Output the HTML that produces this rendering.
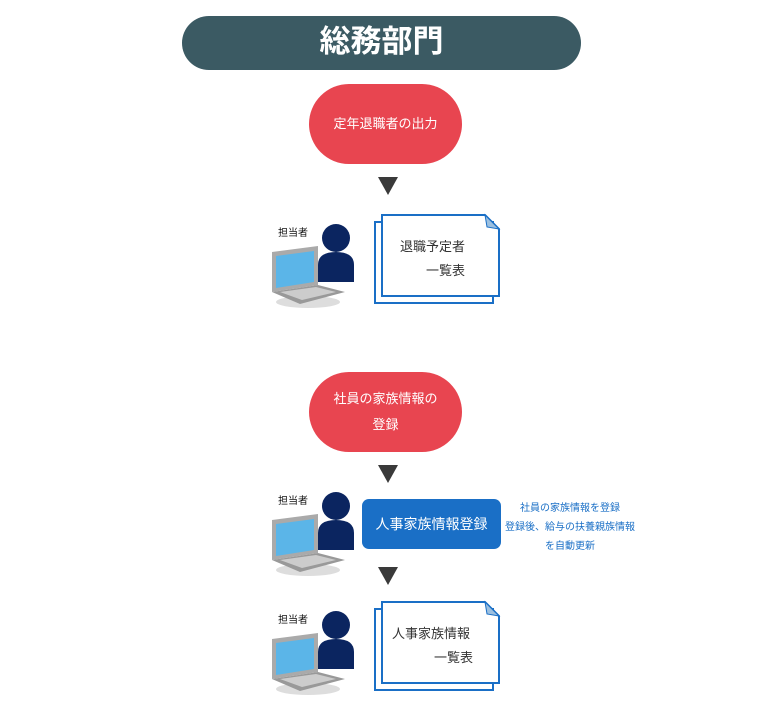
<!DOCTYPE html>
<html><head><meta charset="utf-8"><style>
body{margin:0;width:770px;height:716px;background:#fff;position:relative;font-family:"Liberation Sans","Noto Sans CJK JP",sans-serif;overflow:hidden}
.a{position:absolute}
.hdr{left:182px;top:16px;width:399px;height:54px;border-radius:27px;background:#3b5a63;color:#fff;font-size:31px;font-weight:bold;text-align:center;line-height:52px}
.red{left:309px;width:153px;height:80px;border-radius:40px;background:#e84550;color:#fff;font-size:13px;display:flex;align-items:center;justify-content:center;text-align:center;line-height:26px}
.tri{width:0;height:0;border-left:10px solid transparent;border-right:10px solid transparent;border-top:18px solid #3a3a3a}
.doc{font-size:13px;color:#333}
</style></head><body>
<div class="a hdr">総務部門</div>
<div class="a red" style="top:84px">定年退職者の出力</div>
<div class="a tri" style="left:378px;top:177px"></div>
<div class="a red" style="top:372px">社員の家族情報の<br>登録</div>
<div class="a tri" style="left:378px;top:465px"></div>
<div class="a tri" style="left:378px;top:567px"></div>
<div class="a" style="left:362px;top:499px;width:139px;height:50px;border-radius:7px;background:#1a6fc6;color:#fff;font-size:14px;text-align:center;line-height:50px">人事家族情報登録</div>
<div class="a" style="left:500px;top:499px;width:140px;text-align:center;color:#1a6fc6;font-size:10px;line-height:19px">社員の家族情報を登録<br>登録後、給与の扶養親族情報<br>を自動更新</div>

<svg class="a" style="left:0;top:0" width="770" height="716">
<defs>
<g id="pc">
<ellipse cx="308" cy="302" rx="32" ry="6" fill="#ddd"/>
<polygon points="272,252 318,246 318,285 272,292" fill="#aaa"/>
<polygon points="276,256 314,251 314,282 276,288" fill="#5bb5e8"/>
<polygon points="272,292 318,285 345,292 300,304" fill="#999"/>
<polygon points="280,292 316,287 336,292 302,300" fill="#ccc"/>
<circle cx="336" cy="238" r="14" fill="#0b2560"/>
<path d="M318,282 L318,265 Q318,252 336,252 Q354,252 354,265 L354,282 Z" fill="#0b2560"/>
<text x="278" y="236" font-size="10" fill="#111" font-family="Liberation Sans,Noto Sans CJK JP,sans-serif">担当者</text>
</g>
<g id="doc">
<rect x="375" y="222" width="118" height="81" fill="#fff" stroke="#1a6fc6" stroke-width="2"/>
<polygon points="382,215 485,215 499,229 499,296 382,296" fill="#fff" stroke="#1a6fc6" stroke-width="2"/>
<polygon points="485,215 499,229 487,227" fill="#9cc0e0" stroke="#1a6fc6" stroke-width="1"/>
</g>
</defs>
<use href="#pc"/>
<use href="#pc" y="268"/>
<use href="#pc" y="387"/>
<use href="#doc"/>
<use href="#doc" y="387"/>
</svg>
<div class="a doc" style="left:400px;top:236px">退職予定者</div>
<div class="a doc" style="left:426px;top:260px">一覧表</div>
<div class="a doc" style="left:392px;top:623px">人事家族情報</div>
<div class="a doc" style="left:434px;top:647px">一覧表</div>
</body></html>
